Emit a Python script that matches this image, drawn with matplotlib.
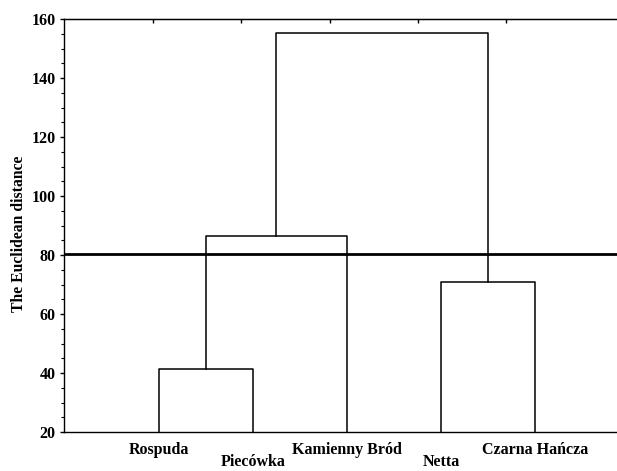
import numpy as np
import matplotlib.pyplot as plt

plt.rcParams['font.family'] = ['Liberation Serif', 'DejaVu Serif']
plt.rcParams['font.weight'] = 'bold'

# leaves of the dendrogram (left to right) and their label row
leaves = ['Rospuda', 'Piecówka', 'Kamienny Bród', 'Netta', 'Czarna Hańcza']
label_row = [0, 1, 0, 1, 0]
# merges: (left node, right node, linkage distance); nodes 0-4 are leaves
merges = [(0, 1, 41.5), (5, 2, 86.3), (3, 4, 70.9), (6, 7, 155.4)]
cut_height = 80.3

fig = plt.figure(figsize=(6.17, 4.71), dpi=100)
ax = fig.add_axes([64/617, 39/471, 565/617, 413/471])

ymin, ymax = 20, 160
xpos = {i: i + 1 for i in range(len(leaves))}
ypos = {i: ymin for i in range(len(leaves))}
node = len(leaves)
for a, b, h in merges:
    ax.plot([xpos[a], xpos[a], xpos[b], xpos[b]], [ypos[a], h, h, ypos[b]],
            color='black', lw=1.1)
    xpos[node] = (xpos[a] + xpos[b]) / 2
    ypos[node] = h
    node += 1

ax.axhline(cut_height, color='black', lw=2)

ax.set_xlim(-0.01, 6.0)
ax.set_ylim(ymin, ymax)
ax.set_yticks(np.arange(20, 161, 20))
ax.set_yticks(np.arange(20, 161, 5), minor=True)
ax.tick_params(axis='y', which='major', length=3, width=1, labelsize=11.5, pad=3)
ax.tick_params(axis='y', which='minor', length=2, width=0.8)
ax.set_ylabel('The Euclidean distance', fontsize=11.3, fontweight='bold')
ax.yaxis.set_label_coords(-0.065, 0.48)

ax.set_xticks([])
for i, name in enumerate(leaves):
    off = -18 if label_row[i] == 0 else -30
    ax.annotate(name, xy=(xpos[i], 0), xycoords=('data', 'axes fraction'),
                xytext=(0, off), textcoords='offset pixels',
                ha='center', va='center', fontsize=11.5, fontweight='bold',
                annotation_clip=False)

# small inward ticks on the top spine
top = ax.secondary_xaxis('top')
top.set_xticks([0.936, 1.876, 2.816, 3.756, 4.696])
top.set_xticklabels([])
top.tick_params(direction='in', length=3, width=1)

for s in ax.spines.values():
    s.set_linewidth(1)

fig.savefig('out.png', dpi=100)
